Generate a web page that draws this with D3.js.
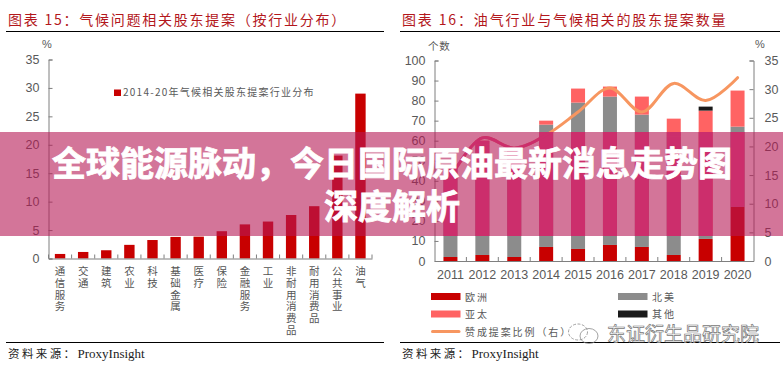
<!DOCTYPE html>
<html>
<head>
<meta charset="utf-8">
<script src="https://cdn.jsdelivr.net/npm/d3@7"></script>
<style>
  html, body { margin: 0; padding: 0; background: #fff; }
  svg { display: block; }
  text { font-family: "Liberation Sans", sans-serif; }
  .cjk { font-family: "Noto Sans CJK SC", sans-serif; }
  .tick-label { font-size: 12.5px; fill: #595959; }
</style>
</head>
<body>
<svg id="chart" width="783" height="369"></svg>
<script>
// Left chart data
const industries = ["通信服务", "交通", "建筑", "农业", "科技", "基础金属", "医疗", "保险", "金融服务", "工业", "非耐用消费品", "耐用消费品", "公共事业", "油气"];
const industryShare = [0.8, 1.15, 1.45, 2.4, 3.25, 3.8, 3.85, 4.8, 6.0, 6.5, 7.65, 9.2, 18.1, 29];
const leftTicks = [0, 5, 10, 15, 20, 25, 30, 35];

// Right chart data
const years = ["2011", "2012", "2013", "2014", "2015", "2016", "2017", "2018", "2019", "2020"];
const europe = [2, 3, 2, 7, 6, 8, 7, 3, 11, 27];
const northAmerica = [46, 55, 52, 61, 73, 74, 66, 59, 2, 40];
const asiaPacific = [0, 2, 2, 2, 7, 5, 9, 9, 62, 18];
const others = [0, 0, 0, 0, 0, 0, 0, 0, 2, 0];
const supportShare = [14.5, 21.5, 19.7, 22, 26, 30.2, 26, 31, 28, 32];
const countTicks = [0, 10, 20, 30, 40, 50, 60, 70, 80, 90, 100];
const shareTicks = [0, 5, 10, 15, 20, 25, 30, 35];

const RED = "#c80000", GREY = "#8c8c8c", CORAL = "#ff6363", BLACK = "#1a1a1a", ORANGE = "#f79660";
const AXIS = "#7f7f7f", BAND_BAR = "#cc2e6c";

const svg = d3.select("#chart");

function header(x0, x1, title, titleX, spacing) {
  svg.append("line").attr("x1", x0).attr("x2", x1).attr("y1", 31.5).attr("y2", 31.5).attr("stroke", "#000");
  svg.append("line").attr("x1", x0).attr("x2", x1).attr("y1", 342.5).attr("y2", 342.5).attr("stroke", "#000");
  svg.append("text").attr("class", "cjk").attr("x", titleX).attr("y", 25)
    .attr("font-size", 14).attr("letter-spacing", spacing).attr("fill", "#b3171c").text(title);
  const foot = svg.append("text").attr("x", titleX).attr("y", 358).attr("fill", "#222");
  foot.append("tspan").attr("class", "cjk").attr("font-size", 11.5).attr("letter-spacing", 2.4).text("资料来源：");
  foot.append("tspan").attr("font-family", "Liberation Serif").attr("font-size", 13).text("ProxyInsight");
}

header(6, 384, "图表 15：气候问题相关股东提案（按行业分布）", 8, 1.75);
header(400, 780, "图表 16：油气行业与气候相关的股东提案数量", 402, 1.85);

// ---- left chart
const xLeft = d3.scaleBand().domain(industries).range([48.5, 372]);
const yLeft = d3.scaleLinear().domain([0, 35]).range([258.5, 59.5]);

const barsLeft = svg.append("g");
barsLeft.selectAll("rect")
  .data(industries)
  .join("rect")
  .attr("x", d => xLeft(d) + xLeft.bandwidth() / 2 - 5.2)
  .attr("width", 10.4)
  .attr("y", (d, i) => yLeft(industryShare[i]))
  .attr("height", (d, i) => yLeft(0) - yLeft(industryShare[i]))
  .attr("fill", RED);

svg.append("g").attr("transform", "translate(48.5,0)")
  .call(d3.axisLeft(yLeft).tickValues(leftTicks).tickSize(-4).tickPadding(9).tickFormat(d3.format("d")))
  .call(styleAxis);
svg.append("g").attr("transform", "translate(0,258.5)")
  .call(d3.axisBottom(xLeft).tickValues([]).tickSize(0))
  .call(styleAxis);
// x ticks sit on the band edges
svg.append("g").selectAll("line")
  .data(industries.concat("end"))
  .join("line")
  .attr("x1", d => d === "end" ? xLeft.range()[1] : xLeft(d))
  .attr("x2", d => d === "end" ? xLeft.range()[1] : xLeft(d))
  .attr("y1", 258.5).attr("y2", 254.5).attr("stroke", AXIS);

svg.append("g").selectAll("text")
  .data(industries)
  .join("text")
  .attr("class", "cjk")
  .attr("transform", d => `translate(${xLeft(d) + xLeft.bandwidth() / 2},266)`)
  .style("writing-mode", "vertical-rl")
  .attr("font-size", 10.5).attr("letter-spacing", 1.2).attr("fill", "#555")
  .text(d => d);

svg.append("text").attr("x", 42).attr("y", 48).attr("font-size", 11).attr("fill", "#595959").text("%");
svg.append("rect").attr("x", 114).attr("y", 89.5).attr("width", 7).attr("height", 6.5).attr("fill", RED);
svg.append("text").attr("class", "cjk").attr("x", 123).attr("y", 96).attr("font-size", 10)
  .attr("letter-spacing", 1.25).attr("fill", "#595959").text("2014-20年气候相关股东提案行业分布");

// ---- right chart
const xRight = d3.scaleBand().domain(years).range([434.5, 753.5]);
const yCount = d3.scaleLinear().domain([0, 100]).range([261, 60.5]);
const yShare = d3.scaleLinear().domain([0, 35]).range([261, 60.5]);

const table = years.map((y, i) => ({ year: y, europe: europe[i], northAmerica: northAmerica[i], asiaPacific: asiaPacific[i], others: others[i] }));
const seriesKeys = ["europe", "northAmerica", "asiaPacific", "others"];
const seriesColor = d3.scaleOrdinal().domain(seriesKeys).range([RED, GREY, CORAL, BLACK]);
const stacked = d3.stack().keys(seriesKeys)(table);

function drawStacks(parent, colorFn, keys) {
  parent.selectAll("g.series")
    .data(stacked.filter(s => keys.includes(s.key)))
    .join("g").attr("class", "series").attr("fill", s => colorFn(s.key))
    .selectAll("rect")
    .data(s => s)
    .join("rect")
    .attr("x", d => xRight(d.data.year) + xRight.bandwidth() / 2 - 7)
    .attr("width", 14)
    .attr("y", d => yCount(d[1]))
    .attr("height", d => yCount(d[0]) - yCount(d[1]));
}
drawStacks(svg.append("g"), seriesColor, seriesKeys);

const supportLine = d3.line()
  .x((d, i) => xRight(years[i]) + xRight.bandwidth() / 2)
  .y(d => yShare(d))
  .curve(d3.curveCatmullRom.alpha(0.5));

svg.append("path").datum(supportShare).attr("d", supportLine)
  .attr("fill", "none").attr("stroke", ORANGE).attr("stroke-width", 3).attr("stroke-linecap", "round");

svg.append("g").attr("transform", "translate(434.5,0)")
  .call(d3.axisLeft(yCount).tickValues(countTicks).tickSize(-4).tickPadding(9).tickFormat(d3.format("d")))
  .call(styleAxis);
svg.append("g").attr("transform", "translate(753.5,0)")
  .call(d3.axisRight(yShare).tickValues(shareTicks).tickSize(-4).tickPadding(11).tickFormat(d3.format("d")))
  .call(styleAxis);
svg.append("g").attr("transform", "translate(0,261)")
  .call(d3.axisBottom(xRight).tickSize(0).tickPadding(9))
  .call(styleAxis);
svg.append("g").selectAll("line")
  .data(years.slice(1))
  .join("line")
  .attr("x1", d => xRight(d)).attr("x2", d => xRight(d))
  .attr("y1", 261).attr("y2", 257).attr("stroke", AXIS);

svg.append("text").attr("class", "cjk").attr("x", 428).attr("y", 50).attr("font-size", 10.5)
  .attr("letter-spacing", 0.8).attr("fill", "#595959").text("个数");
svg.append("text").attr("x", 755).attr("y", 48).attr("font-size", 11).attr("fill", "#595959").text("%");

// legend
const legendItems = [
  { label: "欧洲", color: RED, x: 431, y: 296.5 },
  { label: "北美", color: GREY, x: 618, y: 296.5 },
  { label: "亚太", color: CORAL, x: 431, y: 314 },
  { label: "其他", color: BLACK, x: 618, y: 314 },
  { label: "赞成提案比例（右）", color: ORANGE, x: 431, y: 331.5, line: true }
];
const legend = svg.append("g").selectAll("g").data(legendItems).join("g")
  .attr("transform", d => `translate(${d.x},${d.y})`);
legend.append("rect")
  .attr("y", d => d.line ? -1.5 : -3.5)
  .attr("width", 29.5)
  .attr("height", d => d.line ? 3 : 7)
  .attr("rx", d => d.line ? 1.5 : 0)
  .attr("fill", d => d.color);
legend.append("text").attr("class", "cjk").attr("x", 34).attr("y", 4)
  .attr("font-size", 10).attr("letter-spacing", 1.9).attr("fill", "#595959").text(d => d.label);

// watermark
const mark = svg.append("g").attr("fill", "none").attr("stroke", "#8a8a8a").attr("stroke-width", 0.8);
mark.append("ellipse").attr("cx", 578).attr("cy", 332).attr("rx", 9.5).attr("ry", 8).attr("stroke-dasharray", "3 1.5");
mark.append("ellipse").attr("cx", 589).attr("cy", 336).attr("rx", 9).attr("ry", 7.5);
svg.append("text").attr("class", "cjk").attr("x", 607).attr("y", 341).attr("font-size", 19)
  .attr("fill", "#fff").attr("stroke", "#777").attr("stroke-width", 0.7).text("东证衍生品研究院");

// ---- banner
svg.append("rect").attr("x", 0).attr("y", 132).attr("width", 783).attr("height", 104)
  .attr("fill", "#b61955").attr("fill-opacity", 0.6);

svg.append("clipPath").attr("id", "band").append("rect")
  .attr("x", 0).attr("y", 132).attr("width", 783).attr("height", 104);
const bandLayer = svg.append("g").attr("clip-path", "url(#band)");
drawStacks(bandLayer, () => BAND_BAR, ["northAmerica", "asiaPacific"]);
bandLayer.append("path").datum(supportShare).attr("d", supportLine)
  .attr("fill", "none").attr("stroke", BAND_BAR).attr("stroke-width", 3);

const headline = ["全球能源脉动，今日国际原油最新消息走势图", "深度解析"];
svg.append("g").selectAll("text")
  .data(headline)
  .join("text")
  .attr("class", "cjk")
  .attr("x", 392).attr("y", (d, i) => 176 + i * 43)
  .attr("text-anchor", "middle")
  .attr("font-size", 34).attr("font-weight", 700)
  .attr("fill", "#fff").attr("stroke", "#fff").attr("stroke-width", 0.8)
  .text(d => d);

function styleAxis(g) {
  g.selectAll(".domain").attr("stroke", AXIS);
  g.selectAll(".tick line").attr("stroke", AXIS);
  g.selectAll(".tick text").attr("class", "tick-label").attr("font-size", null).style("font-family", "Liberation Sans");
  g.attr("font-family", null).attr("font-size", null);
}
</script>
</body>
</html>
